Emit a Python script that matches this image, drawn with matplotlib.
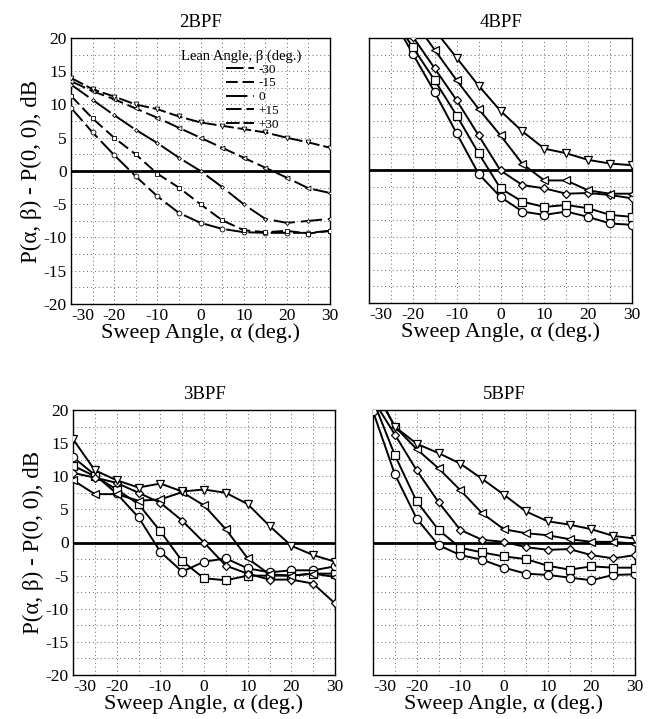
import numpy as np
import matplotlib
matplotlib.use("Agg")
import matplotlib.pyplot as plt
from matplotlib.lines import Line2D

plt.rcParams['font.family'] = ['Liberation Serif', 'DejaVu Serif']
plt.rcParams['axes.unicode_minus'] = False

# ---------------- data ----------------
sweep = [-30, -25, -20, -15, -10, -5, 0, 5, 10, 15, 20, 25, 30]
lean_labels = ['-30', '-15', '0', '+15', '+30']
panel_titles = ['2BPF', '4BPF', '3BPF', '5BPF']

# series order: lean -30, -15, 0, +15, +30
bpf2 = [
    [9.5, 5.8, 2.4, -0.8, -3.8, -6.3, -7.8, -8.7, -9.2, -9.3, -9.3, -9.3, -9.0],
    [11.3, 7.9, 5.0, 2.5, -0.4, -2.5, -5.0, -7.4, -8.9, -9.2, -9.0, -9.4, -9.0],
    [13.0, 10.7, 8.4, 6.2, 4.2, 2.0, 0.0, -2.4, -5.0, -7.2, -7.8, -7.5, -7.2],
    [13.5, 12.0, 10.8, 9.4, 8.0, 6.5, 5.0, 3.5, 2.0, 0.5, -1.0, -2.6, -3.3],
    [14.0, 12.3, 11.2, 10.0, 9.3, 8.2, 7.3, 6.8, 6.3, 5.8, 5.0, 4.3, 3.5],
]
bpf4 = [
    [29.0, 23.4, 17.6, 11.8, 5.6, -0.5, -4.0, -6.2, -6.7, -6.2, -7.0, -8.0, -8.2],
    [28.6, 23.6, 18.6, 13.6, 8.3, 2.6, -2.7, -4.7, -5.5, -5.2, -5.7, -6.7, -7.0],
    [30.0, 25.0, 20.2, 15.4, 10.6, 5.3, 0.0, -2.2, -2.7, -3.5, -3.4, -3.7, -4.2],
    [32.0, 27.4, 22.8, 18.2, 13.6, 9.3, 5.3, 1.0, -1.5, -1.5, -3.0, -3.5, -3.5],
    [33.8, 29.6, 25.4, 21.2, 17.0, 12.8, 9.0, 5.9, 3.3, 2.6, 1.6, 1.05, 0.8],
]
bpf3 = [
    [12.9, 10.2, 7.4, 3.8, -1.4, -4.4, -2.9, -2.4, -3.9, -4.5, -4.2, -4.2, -3.6],
    [11.6, 10.0, 8.0, 5.8, 1.7, -2.8, -5.4, -5.7, -5.0, -5.0, -5.0, -4.7, -4.7],
    [10.5, 9.8, 9.0, 7.5, 6.0, 3.3, 0.0, -3.5, -4.7, -5.6, -5.6, -6.2, -9.2],
    [9.4, 7.3, 7.3, 6.3, 6.5, 7.6, 5.6, 2.0, -2.4, -4.8, -5.0, -4.7, -5.2],
    [15.6, 10.9, 9.4, 8.3, 8.9, 7.7, 8.0, 7.5, 5.8, 2.5, -0.5, -1.9, -2.9],
]
bpf5 = [
    [19.8, 10.3, 3.6, -0.4, -1.9, -2.6, -3.8, -4.7, -4.9, -5.3, -5.7, -4.9, -4.8],
    [21.5, 13.2, 6.2, 1.9, -0.8, -1.5, -2.1, -2.5, -3.5, -4.1, -3.6, -3.8, -3.8],
    [21.6, 16.3, 10.9, 6.1, 1.9, 0.4, 0.1, -0.7, -1.1, -1.0, -1.9, -2.4, -1.9],
    [23.5, 17.5, 14.1, 11.2, 7.9, 4.4, 2.0, 1.4, 1.1, 0.5, 0.1, 0.1, -0.2],
    [23.7, 17.5, 14.9, 13.5, 11.9, 9.6, 7.2, 4.7, 3.2, 2.7, 2.0, 1.0, 0.6],
]

# ---------------- styling ----------------
markers = ['o', 's', 'D', '<', 'v']
msizes = [6, 5.5, 4.5, 6, 6]
dashes2 = [(9, 2.5), (6, 2.5), (11, 3), (8, 2.5), (7, 2)]

fig = plt.figure(figsize=(6.52, 7.19), dpi=100)
W, H = 652, 719
rects = [(71, 38, 330, 304), (369, 38, 632, 303), (73, 410, 335, 675), (373, 410, 635, 675)]
datasets = [bpf2, bpf4, bpf3, bpf5]

for i, (r, data, title) in enumerate(zip(rects, datasets, panel_titles)):
    l, t, rr, b = r
    ax = fig.add_axes([l / W, 1 - b / H, (rr - l) / W, (b - t) / H])
    ax.set_xlim(-30, 30)
    ax.set_ylim(-20, 20)
    ax.set_xticks(np.arange(-30, 31, 10))
    ax.set_yticks(np.arange(-20, 21, 5))
    ax.set_xticks(np.arange(-30, 31, 5), minor=True)
    ax.set_yticks(np.arange(-20, 21, 2.5), minor=True)
    ax.grid(which='both', linestyle=(0, (1, 3)), color='0.4', lw=0.7)
    ax.tick_params(which='both', direction='in', length=0, labelsize=12.5, pad=3)
    for sp in ax.spines.values():
        sp.set_linewidth(1.0)
    ax.axhline(0, color='black', lw=2.0, zorder=3)
    for k, vals in enumerate(data):
        kw = dict(color='black', lw=1.4, marker=markers[k], ms=msizes[k],
                  mfc='white', mec='black', mew=0.9, zorder=4)
        if i == 0:
            kw['dashes'] = dashes2[k]
            kw['ms'] = msizes[k] - 2.5
            kw['mew'] = 0.6
        ax.plot(sweep, vals, **kw)
    ax.set_title(title, fontsize=13.5, pad=8)
    ax.set_xlabel('Sweep Angle, α (deg.)', fontsize=16, labelpad=-1)
    if i % 2 == 0:
        ax.set_ylabel('P(α, β) - P(0, 0), dB', fontsize=16.5, labelpad=1)
    else:
        ax.tick_params(labelleft=False)
    # leftmost x tick label starts at the axis corner, as in the reference
    fig.canvas.draw()
    xtl = ax.get_xticklabels()
    if xtl:
        xtl[0].set_horizontalalignment('left')
    if i == 0:
        handles = [Line2D([], [], color='black', lw=1.4, dashes=dashes2[k]) for k in range(5)]
        ax.text(0.425, 0.93, 'Lean Angle, β (deg.)', transform=ax.transAxes,
                fontsize=10.5, ha='left', va='center', zorder=6)
        leg = ax.legend(handles, lean_labels, loc='upper left',
                        bbox_to_anchor=(0.60, 0.905),
                        frameon=False, fontsize=9.5,
                        handlelength=2.1, handletextpad=0.35, labelspacing=0.12,
                        borderpad=0.0, borderaxespad=0.0)
        leg.set_zorder(6)

fig.savefig('out.png', dpi=100)
